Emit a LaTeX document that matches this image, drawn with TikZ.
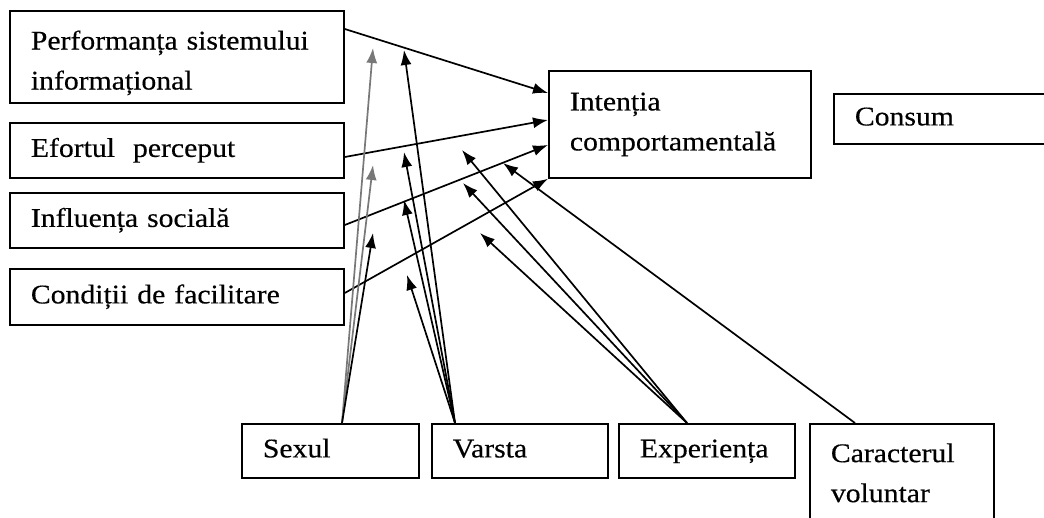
\documentclass[tikz,border=0pt]{standalone}
\usepackage{fontspec}
\setmainfont{Liberation Serif}[FakeStretch=1.1,FakeBold=0.4]
\usetikzlibrary{arrows.meta}
\definecolor{arrowgray}{RGB}{120,120,120}
\begin{document}
\begin{tikzpicture}[x=1pt,y=-1pt,
  box/.style={draw,line width=1.8pt,anchor=north west,inner xsep=21pt,align=left,
    font=\fontsize{27}{40}\selectfont},
  oneline/.style={text height=19pt,text depth=6pt},
  arr/.style={line width=1.7pt,-{Latex[length=15pt,width=11pt]}}]
  \useasboundingbox (0,0) rectangle (1044,518);
  \clip (0,0) rectangle (1044,518);
  % factors on the left
  \node[box,text width=292pt,minimum height=92pt] (perf) at (9,10) {\rule{0pt}{31pt}Performanța sistemului\\informațional};
  \node[box,oneline,text width=292pt,minimum height=55pt] (efort) at (9,122) {Efortul\ \ perceput};
  \node[box,oneline,text width=292pt,minimum height=55pt] (influ) at (9,192) {Influența socială};
  \node[box,oneline,text width=292pt,minimum height=56pt] (cond) at (9,268) {Condiții de facilitare};
  \node[box,text width=220pt,minimum height=107pt] (intent) at (548,70) {Intenția\\comportamentală};
  \node[box,oneline,text width=218pt,minimum height=50pt] (consum) at (833,93) {Consum};
  % moderators
  \node[box,oneline,text width=135pt,minimum height=54pt] (sexul) at (241,423) {Sexul};
  \node[box,oneline,text width=134pt,minimum height=54pt] (varsta) at (431,423) {Varsta};
  \node[box,oneline,text width=134pt,minimum height=54pt] (exper) at (618,423) {Experiența};
  \node[box,text width=142pt,minimum height=98pt] (carac) at (809,423) {Caracterul\\voluntar};
  % free ends of the moderator arrows
  \coordinate (s1) at (373,48);
  \coordinate (s2) at (373,165);
  \coordinate (s3) at (373,233);
  \coordinate (v1) at (404,50);
  \coordinate (v2) at (404,152);
  \coordinate (v3) at (404,200);
  \coordinate (v4) at (407,275);
  \coordinate (e1) at (462,150);
  \coordinate (e2) at (463,183);
  \coordinate (e3) at (480,233);
  \coordinate (c1) at (503,163);
  \draw[arr] ([yshift=-19pt]perf.north east) -- ([yshift=-23pt]intent.north west);
  \draw[arr] ([yshift=-35pt]efort.north east) -- ([yshift=-50pt]intent.north west);
  \draw[arr] ([yshift=-33pt]influ.north east) -- ([yshift=-75pt]intent.north west);
  \draw[arr] ([yshift=-25pt]cond.north east) -- (intent.south west);
  \foreach \p in {s1,s2}
    \draw[arr,arrowgray] ([xshift=101pt]sexul.north west) -- (\p);
  \draw[arr] ([xshift=101pt]sexul.north west) -- (s3);
  \foreach \p in {v1,v2,v3,v4}
    \draw[arr] ([xshift=24pt]varsta.north west) -- (\p);
  \foreach \p in {e1,e2,e3}
    \draw[arr] ([xshift=69pt]exper.north west) -- (\p);
  \draw[arr] ([xshift=46pt]carac.north west) -- (c1);
\end{tikzpicture}
\end{document}
